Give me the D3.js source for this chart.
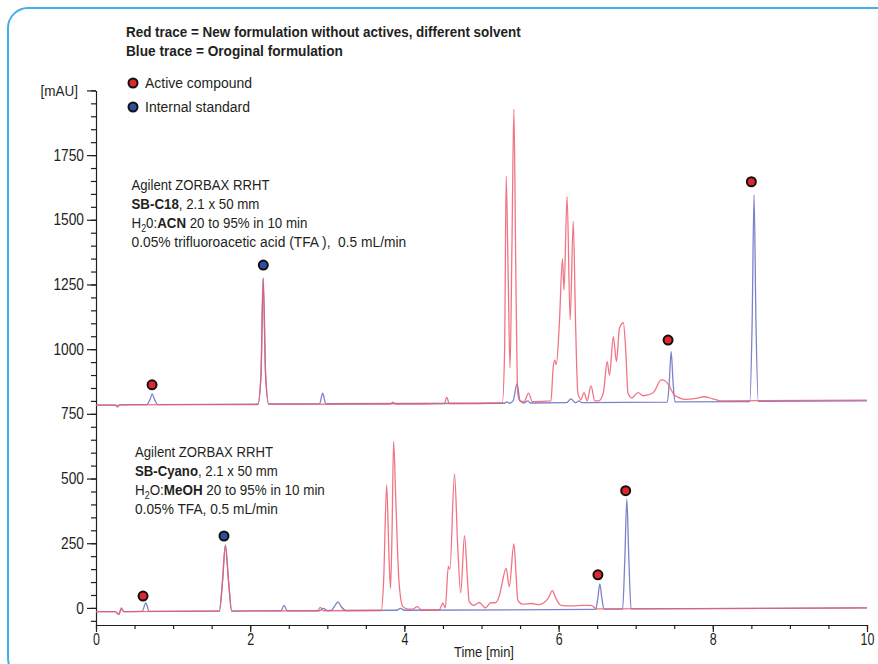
<!DOCTYPE html>
<html>
<head>
<meta charset="utf-8">
<script src="https://cdn.jsdelivr.net/npm/d3@7"></script>
<style>
  body { margin: 0; background: #fff; }
  text { font-family: 'Liberation Sans', Arial, sans-serif; fill: #231f20; white-space: pre; }
</style>
</head>
<body>
<svg id="chart" width="878" height="664"></svg>
<script>
// ---- data: [time (min), signal (mAU)] ----
const upperBlue = [
  [0,784],[0.25,784],[0.28,781],[0.31,785],[0.66,786],[0.70,805],[0.73,827],[0.76,805],[0.80,786],
  [2.10,788],[2.14,900],[2.17,1275],[2.20,900],[2.24,788],[2.90,789],[2.94,830],[2.98,789],
  [5.30,791],[5.33,796],[5.36,791],[5.41,800],[5.46,866],[5.50,800],[5.55,792],[5.60,800],[5.64,792],
  [6.10,793],[6.16,808],[6.22,793],[6.27,800],[6.30,793],[7.41,795],[7.435,870],[7.46,990],[7.485,870],
  [7.51,796],[8.48,797],[8.51,1100],[8.535,1596],[8.56,1100],[8.59,798],[10,800]
];
const upperRed = [
  [0,784],[0.25,784],[0.28,776],[0.31,785],[2.10,786],[2.14,900],[2.165,1270],[2.20,900],[2.24,787],
  [3.82,788],[3.85,795],[3.88,788],[4.52,790],[4.55,815],[4.58,790],[5.27,792],[5.30,1000],[5.32,1669],
  [5.345,1300],[5.37,927],[5.395,1400],[5.42,1927],[5.445,1300],[5.47,830],[5.50,800],[5.55,797],
  [5.61,830],[5.66,797],[5.90,800],[5.93,930],[5.95,958],[5.97,940],[6.01,1100],[6.05,1349],[6.07,1229],
  [6.11,1589],[6.15,1113],[6.19,1493],[6.22,1100],[6.25,830],[6.29,805],[6.33,832],[6.37,800],[6.42,858],
  [6.47,800],[6.52,800],[6.58,830],[6.63,952],[6.66,900],[6.71,1048],[6.75,952],[6.79,1082],[6.84,1102],
  [6.87,1000],[6.90,830],[6.95,812],[7.03,832],[7.10,820],[7.16,823],[7.24,836],[7.33,881],[7.38,878],
  [7.43,860],[7.50,823],[7.54,816],[7.60,808],[7.66,806],[7.78,810],[7.89,816],[8.00,808],[8.11,800],[10,803]
];
const lowerBlue = [
  [0,-14],[0.25,-14],[0.295,-24],[0.33,-4],[0.36,-14],[0.60,-13],[0.645,19],[0.69,-13],
  [1.60,-12],[1.64,100],[1.68,243],[1.72,100],[1.76,-12],[2.40,-11],[2.44,10],[2.48,-11],
  [2.90,-11],[2.95,-2],[3.00,-10],[3.05,-10],[3.10,10],[3.14,23],[3.18,5],[3.24,-10],
  [3.90,-9],[3.95,-2],[4.00,-9],[6.48,-6],[6.51,40],[6.535,93],[6.56,40],[6.59,-5],
  [6.83,-5],[6.86,200],[6.885,421],[6.91,200],[6.94,-4],[10,0]
];
const lowerRed = [
  [0,-14],[0.25,-14],[0.295,-26],[0.33,0],[0.36,-14],[1.60,-12],[1.64,100],[1.675,240],[1.72,100],
  [1.76,-12],[2.87,-11],[2.91,2],[2.95,-11],[3.70,-10],[3.73,100],[3.77,475],[3.80,200],[3.82,76],
  [3.84,300],[3.86,643],[3.89,400],[3.93,100],[3.98,5],[4.05,-5],[4.10,-5],[4.17,5],[4.22,-8],
  [4.45,-8],[4.50,18],[4.53,0],[4.57,160],[4.59,150],[4.65,518],[4.69,250],[4.73,59],[4.78,279],
  [4.82,100],[4.84,24],[4.90,10],[4.97,21],[5.05,0],[5.12,20],[5.18,20],[5.24,57],[5.27,100],
  [5.32,153],[5.36,82],[5.42,247],[5.45,120],[5.47,31],[5.53,15],[5.65,17],[5.75,13],[5.84,28],
  [5.87,40],[5.92,67],[5.96,40],[6.03,10],[6.20,8],[6.30,10],[6.42,10],[6.50,-4],[10,0]
];

// peak markers [time, mAU]
const activeMarks = [[0.727,862],[7.42,1035],[8.50,1647],[0.61,46],[6.51,128],[6.87,453]];
const standardMarks = [[2.17,1325],[1.66,278]];

const yTicks = [0, 250, 500, 750, 1000, 1250, 1500, 1750, 2000];
const xTicks = [0, 2, 4, 6, 8, 10];

const titleLines = [
  "Red trace = New formulation without actives, different solvent",
  "Blue trace = Oroginal formulation"
];
const legendItems = ["Active compound", "Internal standard"];

// segments: [text, style] style 0 normal, 1 bold, 2 subscript
const upperNote = [
  [["Agilent ZORBAX RRHT",0]],
  [["SB-C18",1],[", 2.1 x 50 mm",0]],
  [["H",0],["2",2],["0:",0],["ACN",1],[" 20 to 95% in 10 min",0]],
  [["0.05% trifluoroacetic acid (TFA ),  0.5 mL/min",0]]
];
const lowerNote = [
  [["Agilent ZORBAX RRHT",0]],
  [["SB-Cyano",1],[", 2.1 x 50 mm",0]],
  [["H",0],["2",2],["O:",0],["MeOH",1],[" 20 to 95% in 10 min",0]],
  [["0.05% TFA, 0.5 mL/min",0]]
];

const RED = "#ee5c70", BLUE = "#7d83c8";

const svg = d3.select("#chart");

// squeeze a text to a given width (condensed face look)
function fit(sel, x0, y0, w) {
  const n = sel.node().getComputedTextLength();
  sel.attr("x", 0).attr("y", 0)
    .attr("transform", `translate(${x0},${y0}) scale(${w / n},1)`);
}

// frame
svg.append("rect")
  .attr("x", 8).attr("y", 8)
  .attr("width", 890).attr("height", 670)
  .attr("rx", 20)
  .attr("fill", "none")
  .attr("stroke", "#3fb1e5")
  .attr("stroke-width", 2);

const x = d3.scaleLinear().domain([0, 10]).range([96, 867]);
const y = d3.scaleLinear().domain([-66, 2000]).range([625, 90.4]);

// y axis: minor then major
svg.append("g")
  .attr("transform", "translate(96,0)")
  .call(d3.axisLeft(y).tickValues(d3.range(-50, 2001, 50)).tickSize(5).tickFormat(""))
  .call(g => g.select(".domain").remove());

const yAxis = svg.append("g")
  .attr("transform", "translate(96,0)")
  .call(d3.axisLeft(y).tickValues(yTicks).tickSize(9).tickSizeOuter(0).tickPadding(3)
    .tickFormat(d => d === 2000 ? "[mAU]" : d));
yAxis.selectAll("text").style("font-size", "16px")
  .attr("transform", "translate(-12,0) scale(0.86,1)").attr("x", 0);
yAxis.selectAll(".tick").filter(d => d === 2000).select("text")
  .style("font-size", "15px")
  .attr("transform", "translate(-18,0) scale(0.9,1)");

// x axis
svg.append("g")
  .attr("transform", "translate(0,625)")
  .call(d3.axisBottom(x).tickValues(d3.range(0, 10.01, 0.5)).tickSize(4).tickFormat(""))
  .call(g => g.select(".domain").remove());

const xAxis = svg.append("g")
  .attr("transform", "translate(0,625)")
  .call(d3.axisBottom(x).tickValues(xTicks).tickSize(7).tickSizeOuter(0).tickPadding(2));
xAxis.selectAll("text").style("font-size", "16px")
  .each(function(d) { d3.select(this).attr("x", 0).attr("transform", "scale(0.78,1)"); });

svg.selectAll(".domain, .tick line").attr("stroke", "#231f20").attr("stroke-width", 1.2);

fit(svg.append("text").attr("text-anchor", "middle").style("font-size", "15px").text("Time [min]"),
  484, 657, 60);

// traces
const line = d3.line()
  .x(d => x(d[0]))
  .y(d => y(d[1]))
  .curve(d3.curveMonotoneX);

[upperBlue, lowerBlue].forEach(s => {
  svg.append("path").datum(s)
    .attr("fill", "none").attr("stroke", BLUE).attr("stroke-width", 1.3)
    .attr("d", line);
});
[upperRed, lowerRed].forEach(s => {
  svg.append("path").datum(s)
    .attr("fill", "none").attr("stroke", RED).attr("stroke-width", 1.3)
    .attr("stroke-opacity", 0.85)
    .attr("d", line);
});

// markers
svg.selectAll(".active").data(activeMarks).join("circle")
  .attr("cx", d => x(d[0])).attr("cy", d => y(d[1])).attr("r", 4.5)
  .attr("fill", "#e1262d").attr("stroke", "#111").attr("stroke-width", 2);
svg.selectAll(".standard").data(standardMarks).join("circle")
  .attr("cx", d => x(d[0])).attr("cy", d => y(d[1])).attr("r", 4.5)
  .attr("fill", "#2e4d9e").attr("stroke", "#111").attr("stroke-width", 2);

// title
const titleW = [395, 217];
titleLines.forEach((t, i) => {
  fit(svg.append("text").style("font-size", "15px").style("font-weight", "bold").text(t),
    126, 37 + i * 19, titleW[i]);
});

// legend
const legendColors = ["#e1262d", "#2e4d9e"];
const legendW = [107, 105];
legendItems.forEach((t, i) => {
  svg.append("circle")
    .attr("cx", 133).attr("cy", 83 + i * 24).attr("r", 4.5)
    .attr("fill", legendColors[i]).attr("stroke", "#111").attr("stroke-width", 2);
  fit(svg.append("text").style("font-size", "15px").text(t), 145, 88 + i * 24, legendW[i]);
});

// column notes
function note(lines, x0, y0, widths) {
  lines.forEach((segs, i) => {
    const t = svg.append("text").style("font-size", "15px");
    let sub = false;
    segs.forEach(([s, k]) => {
      const sp = t.append("tspan").text(s);
      if (k === 1) sp.style("font-weight", "bold");
      if (k === 2) { sp.style("font-size", "10px").attr("dy", 4); sub = true; }
      else if (sub) { sp.attr("dy", -4); sub = false; }
    });
    fit(t, x0, y0 + i * 19, widths[i]);
  });
}
note(upperNote, 131.5, 190, [138, 128, 176, 275]);
note(lowerNote, 135, 457, [138, 143, 190, 143]);
</script>
</body>
</html>
